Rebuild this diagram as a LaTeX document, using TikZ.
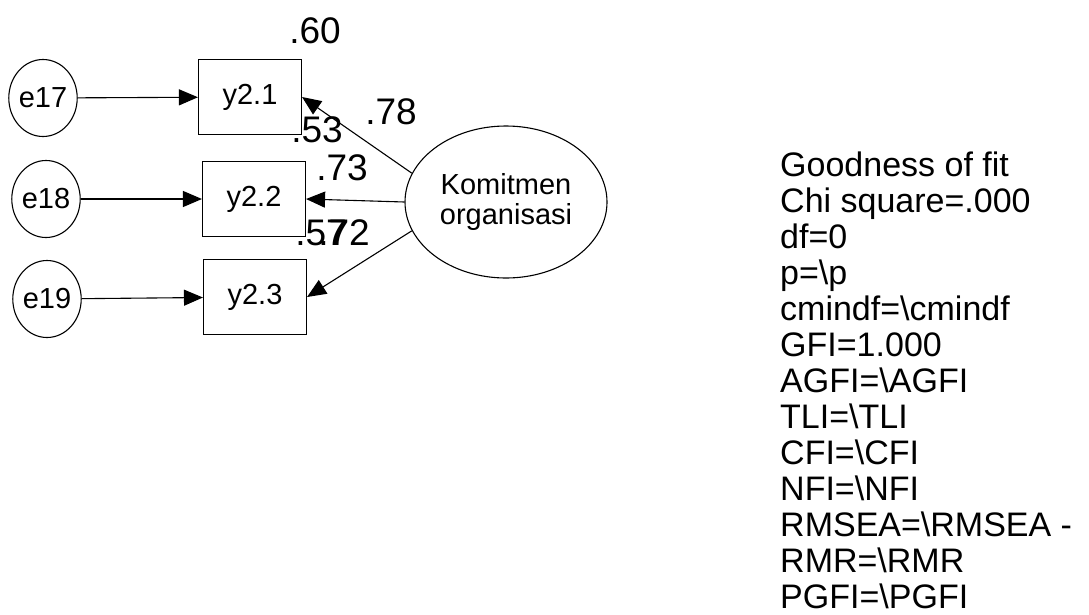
\documentclass[tikz,border=0pt]{standalone}
\usepackage{fontspec}
\setmainfont{Liberation Sans}
\usetikzlibrary{arrows.meta,shapes.geometric}
\begin{document}
\begin{tikzpicture}[x=1pt,y=-1pt,
  err/.style={ellipse, draw, line width=1.1pt, minimum width=59pt, minimum height=77pt, inner sep=0pt, font=\fontsize{29}{30}\selectfont},
  obs/.style={rectangle, draw, line width=1.1pt, minimum width=103pt, minimum height=75pt, inner sep=0pt, font=\fontsize{29}{30}\selectfont},
  lat/.style={ellipse, draw, line width=1.1pt, minimum width=202pt, minimum height=152pt, inner sep=0pt, align=center, font=\fontsize{29}{30}\selectfont},
  arr/.style={-{Triangle[length=19pt,width=16pt]}, line width=1.1pt},
  coef/.style={inner sep=0pt, font=\fontsize{37}{40}\selectfont},
  fittext/.style={anchor=north west, inner sep=0pt, align=left, font=\fontsize{34}{36}\selectfont}
]
\useasboundingbox (0,0) rectangle (1089,614);
\fill[white] (0,0) rectangle (1089,614);

\node[err] (e17) at (43,98) {e17};
\node[err] (e18) at (46,199) {e18};
\node[err] (e19) at (47,299) {e19};

\node[obs] (y21) at (250,97) {y2.1};
\node[obs] (y22) at (254,199) {y2.2};
\node[obs] (y23) at (255,297) {y2.3};

\node[lat] (kom) at (506,202) {Komitmen\\organisasi};

\draw[arr] (e17) -- (y21);
\draw[arr] (e18) -- (y22);
\draw[arr] (e19) -- (y23);

\draw[arr] (kom.163) -- (y21.east);
\draw[arr] (kom.west) -- (y22.east);
\draw[arr] (kom.197) -- (y23.east);

\node[coef] (c60) at (315,31) {.60};
\node[coef] (c78) at (391,112) {.78};
\node[coef] (c53) at (317,130) {.53};
\node[coef] (c73) at (342,168) {.73};
\node[coef] (c57) at (321,233) {.57};
\node[coef] (c72) at (344,233) {.72};

\node[fittext] (fit) at (780,152) {Goodness of fit\\
Chi square=.000\\
df=0\\
p=\textbackslash p\\
cmindf=\textbackslash cmindf\\
GFI=1.000\\
AGFI=\textbackslash AGFI\\
TLI=\textbackslash TLI\\
CFI=\textbackslash CFI\\
NFI=\textbackslash NFI\\
RMSEA=\textbackslash RMSEA -\\
RMR=\textbackslash RMR\\
PGFI=\textbackslash PGFI};
\end{tikzpicture}
\end{document}
